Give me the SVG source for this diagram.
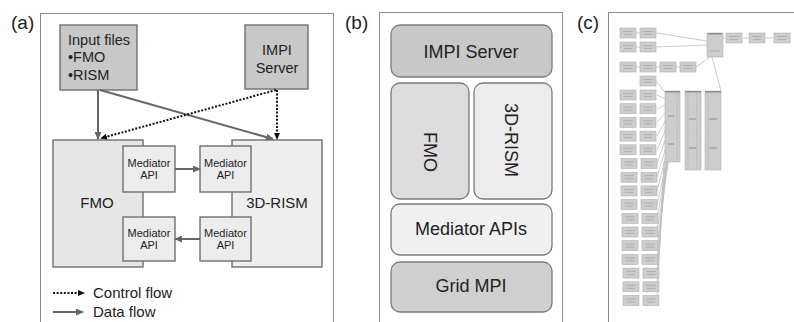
<svg xmlns="http://www.w3.org/2000/svg" xmlns:xlink="http://www.w3.org/1999/xlink" width="794" height="322" viewBox="0 0 794 322">
<style>
text{font-family:"Liberation Sans",Arial,sans-serif;fill:#222}
.frame{fill:#fff;stroke:#8c8c8c;stroke-width:1}
.dark{fill:#c8c8c8;stroke:#707070;stroke-width:1.4}
.light{fill:#e6e6e6;stroke:#707070;stroke-width:1.4}
.lighter{fill:#eeeeee;stroke:#707070;stroke-width:1.4}
.med{fill:#ececec;stroke:#707070;stroke-width:1.4}
.rb{stroke:#7a7a7a;stroke-width:1.3}
.lbl{font-size:19px}
.t14{font-size:14.5px}
.t15{font-size:15px}
.t11{font-size:11px;text-anchor:middle}
.t18{font-size:18px;text-anchor:middle}
.data{fill:none;stroke:#666;stroke-width:2}
.ctrl{fill:none;stroke:#111;stroke-width:2;stroke-dasharray:2 1.6}
.cl{fill:none;stroke:#bcbcbc;stroke-width:0.8}
.cbx{fill:#cdcdcd;stroke:#b0b0b0;stroke-width:0.6}
.ctx{stroke:#a2a2a2;stroke-width:0.7}
</style>
<defs>
<marker id="arrG" markerUnits="userSpaceOnUse" markerWidth="8" markerHeight="7" refX="7" refY="3.5" orient="auto">
<path d="M0,0 L8,3.5 L0,7 z" fill="#666"/>
</marker>
<marker id="arrK" markerUnits="userSpaceOnUse" markerWidth="7" markerHeight="7" refX="5" refY="3.5" orient="auto">
<path d="M0,0.5 L7,3.5 L0,6.5 z" fill="#111"/>
</marker>
<g id="cb">
<rect class="cbx" x="0" y="0" width="16" height="10"/>
<line class="ctx" x1="3" y1="3.5" x2="13" y2="3.5"/>
<line class="ctx" x1="4" y1="6.5" x2="12" y2="6.5"/>
</g>
</defs>
<rect width="794" height="322" fill="#fff"/>

<!-- Panel labels -->
<text class="lbl" x="11" y="29">(a)</text>
<text class="lbl" x="345" y="29">(b)</text>
<text class="lbl" x="577" y="29">(c)</text>

<!-- Panel (a) -->
<rect class="frame" x="40.5" y="13.5" width="293" height="330"/>

<g id="input-files">
<rect class="dark" x="60" y="25" width="77" height="65"/>
<text class="t14" x="68" y="45">Input files</text>
<text class="t14" x="68" y="62">•FMO</text>
<text class="t14" x="68" y="80">•RISM</text>
</g>
<g id="impi-server-a">
<rect class="dark" x="245" y="25" width="63" height="64"/>
<text class="t14" x="277" y="55" text-anchor="middle">IMPI</text>
<text class="t14" x="277" y="73" text-anchor="middle">Server</text>
</g>
<g id="fmo-a">
<rect class="light" x="53" y="140" width="90" height="127"/>
<text class="t15" x="97" y="208" text-anchor="middle">FMO</text>
</g>
<g id="rism-a">
<rect class="lighter" x="232" y="140" width="90" height="127"/>
<text class="t15" x="277" y="208" text-anchor="middle">3D-RISM</text>
</g>
<g id="med-fmo-top">
<rect class="med" x="123" y="146" width="52" height="46"/>
<text class="t11" x="149" y="167">Mediator</text>
<text class="t11" x="149" y="179">API</text>
</g>
<g id="med-fmo-bot">
<rect class="med" x="123" y="217" width="52" height="44"/>
<text class="t11" x="149" y="237">Mediator</text>
<text class="t11" x="149" y="249">API</text>
</g>
<g id="med-rism-top">
<rect class="med" x="200" y="146" width="51" height="46"/>
<text class="t11" x="225.5" y="167">Mediator</text>
<text class="t11" x="225.5" y="179">API</text>
</g>
<g id="med-rism-bot">
<rect class="med" x="200" y="217" width="51" height="44"/>
<text class="t11" x="225.5" y="237">Mediator</text>
<text class="t11" x="225.5" y="249">API</text>
</g>

<g id="connectors">
<path class="data" d="M98,90 L98,139" marker-end="url(#arrG)"/>
<path class="data" d="M100,90 L273,139" marker-end="url(#arrG)"/>
<path class="ctrl" d="M276,90 L102,138" marker-end="url(#arrK)"/>
<path class="ctrl" d="M277,90 L277,138" marker-end="url(#arrK)"/>
<path class="data" d="M175,169 L200,169" marker-end="url(#arrG)"/>
<path class="data" d="M200,239 L175,239" marker-end="url(#arrG)"/>
<path class="ctrl" d="M53,293 L83,293" marker-end="url(#arrK)"/>
<path class="data" d="M53,312 L83,312" marker-end="url(#arrG)"/>
</g>
<g id="legend">
<text class="t15" x="93" y="298">Control flow</text>
<text class="t15" x="93" y="317">Data flow</text>
</g>

<!-- Panel (b) -->
<rect class="frame" x="379.5" y="12.5" width="183" height="330"/>
<g id="impi-server-b">
<rect class="rb" x="391" y="25" width="161" height="52" rx="9" fill="#c8c8c8"/>
<text class="t18" x="471" y="58">IMPI Server</text>
</g>
<g id="fmo-b">
<rect class="rb" x="391" y="83" width="78" height="116" rx="9" fill="#dcdcdc"/>
<text class="t18" transform="translate(424,152) rotate(90)">FMO</text>
</g>
<g id="rism-b">
<rect class="rb" x="474" y="83" width="78" height="116" rx="9" fill="#ececec"/>
<text class="t18" transform="translate(505,140) rotate(90)">3D-RISM</text>
</g>
<g id="mediator-apis">
<rect class="rb" x="391" y="204" width="161" height="51" rx="9" fill="#f0f0f0"/>
<text class="t18" x="471" y="235">Mediator APIs</text>
</g>
<g id="grid-mpi">
<rect class="rb" x="391" y="262" width="161" height="50" rx="9" fill="#cfcfcf"/>
<text class="t18" x="471" y="292">Grid MPI</text>
</g>

<!-- Panel (c) -->
<rect class="frame" x="608.5" y="12.5" width="200" height="330"/>
<g id="panel-c">
<g id="c-lines">
<path class="cl" d="M636,33 L640,33 M636,47 L640,47 M656,33 L707,41 M656,47 L707,45 M636,67 L640,67 M656,67 L660,67 M676,67 L680,67 M696,67 L710,57 M712,57 L721,91 M723,38 L725,38 M743,38 L748,38 M766,38 L773,38"/>
<path class="cl" d="M656,81 L668,96 M657,95 L668,100 M657,109 L668,104 M657,122 L668,110 M657,136 L668,116 M657,150 L668,124 M657,164 L668,132 M657,177 L668,140 M657,191 L668,148 M657,205 L668,156 M657,218 L668,160 M657,232 L668,162 M657,246 L668,162 M657,259 L667,162 M657,273 L666,162 M657,287 L665,162 M657,300 L664,162"/>
</g>
<use xlink:href="#cb" x="620" y="28"/><use xlink:href="#cb" x="640" y="28"/>
<use xlink:href="#cb" x="620" y="42"/><use xlink:href="#cb" x="640" y="42"/>
<use xlink:href="#cb" x="620" y="62"/><use xlink:href="#cb" x="640" y="62"/><use xlink:href="#cb" x="660" y="62"/><use xlink:href="#cb" x="680" y="62"/>
<use xlink:href="#cb" x="640" y="76"/>
<g id="c-rows">
<use xlink:href="#cb" x="620" y="90"/><use xlink:href="#cb" x="640" y="90"/>
<use xlink:href="#cb" x="620" y="103.7"/><use xlink:href="#cb" x="640" y="103.7"/>
<use xlink:href="#cb" x="620" y="117.4"/><use xlink:href="#cb" x="640" y="117.4"/>
<use xlink:href="#cb" x="620" y="131.1"/><use xlink:href="#cb" x="640" y="131.1"/>
<use xlink:href="#cb" x="620" y="144.8"/><use xlink:href="#cb" x="640" y="144.8"/>
<use xlink:href="#cb" x="621" y="158.5"/><use xlink:href="#cb" x="641" y="158.5"/>
<use xlink:href="#cb" x="621" y="172.2"/><use xlink:href="#cb" x="641" y="172.2"/>
<use xlink:href="#cb" x="621" y="185.9"/><use xlink:href="#cb" x="641" y="185.9"/>
<use xlink:href="#cb" x="621" y="199.6"/><use xlink:href="#cb" x="641" y="199.6"/>
<use xlink:href="#cb" x="622" y="213.3"/><use xlink:href="#cb" x="642" y="213.3"/>
<use xlink:href="#cb" x="622" y="227"/><use xlink:href="#cb" x="642" y="227"/>
<use xlink:href="#cb" x="622" y="240.7"/><use xlink:href="#cb" x="642" y="240.7"/>
<use xlink:href="#cb" x="622" y="254.4"/><use xlink:href="#cb" x="642" y="254.4"/>
<use xlink:href="#cb" x="623" y="268.1"/><use xlink:href="#cb" x="643" y="268.1"/>
<use xlink:href="#cb" x="623" y="281.8"/><use xlink:href="#cb" x="643" y="281.8"/>
<use xlink:href="#cb" x="623" y="295.5"/><use xlink:href="#cb" x="643" y="295.5"/>
</g>
<g id="c-main">
<rect class="cbx" x="707" y="33" width="16" height="24" fill="#c2c2c2"/>
<line class="ctx" x1="710" y1="51" x2="720" y2="51"/>
<rect x="708" y="33" width="14" height="1.5" fill="#8e8e8e"/>
<use xlink:href="#cb" x="726" y="33"/><use xlink:href="#cb" x="749" y="33"/><use xlink:href="#cb" x="774" y="33"/>
</g>
<g id="c-columns">
<rect class="cbx" x="665" y="91" width="15" height="71"/>
<rect class="cbx" x="685" y="91" width="16" height="79"/>
<rect class="cbx" x="705" y="91" width="16" height="79"/>
<rect x="665" y="91" width="15" height="1.5" fill="#8e8e8e"/>
<rect x="685" y="91" width="16" height="1.5" fill="#8e8e8e"/>
<rect x="705" y="91" width="16" height="1.5" fill="#8e8e8e"/>
<line x1="677" y1="93" x2="677" y2="162" stroke="#a6a6a6" stroke-width="0.8" stroke-dasharray="1 1.2"/>
<line x1="697" y1="93" x2="697" y2="170" stroke="#a6a6a6" stroke-width="0.8" stroke-dasharray="1 1.2"/>
<line x1="688" y1="93" x2="688" y2="170" stroke="#a6a6a6" stroke-width="0.8" stroke-dasharray="1 1.2"/>
<line x1="708" y1="93" x2="708" y2="170" stroke="#a6a6a6" stroke-width="0.8" stroke-dasharray="1 1.2"/>
<path d="M668,116 L674,116 M668,144 L674,144 M689,119 L696,119 M689,148 L696,148 M709,119 L717,119 M709,148 L717,148" stroke="#8e8e8e" stroke-width="1"/>
</g>
</g>
</svg>
